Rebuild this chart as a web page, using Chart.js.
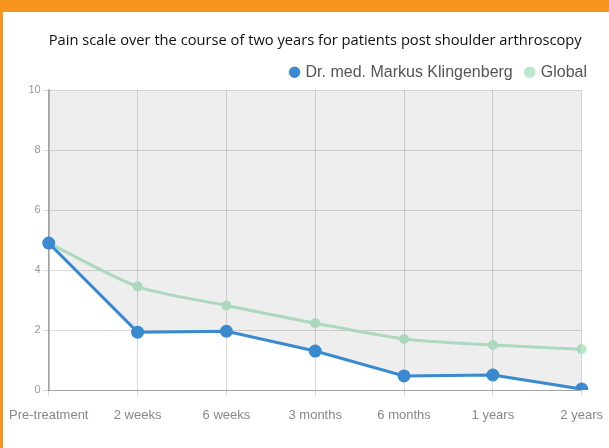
<!DOCTYPE html>
<html>
<head>
<meta charset="utf-8">
<script src="https://cdn.jsdelivr.net/npm/chart.js@4"></script>
<style>
  body { margin: 0; background: #f7941d; width: 609px; height: 448px; overflow: hidden; }
  .card { position: absolute; left: 3px; top: 12px; width: 606px; height: 436px; background: #fff; }
  canvas { display: block; }
</style>
</head>
<body>
<div class="card"><canvas id="myChart" width="606" height="436"></canvas></div>
<script>
const labels = ["Pre-treatment", "2 weeks", "6 weeks", "3 months", "6 months", "1 years", "2 years"];
const doctorValues = [4.9, 1.93, 1.96, 1.3, 0.47, 0.5, 0.03];
const globalValues = [4.9, 3.45, 2.82, 2.23, 1.7, 1.5, 1.36];
const yTicks = [0, 2, 4, 6, 8, 10];

const ctx = document.getElementById("myChart").getContext("2d");
let myChart = new Chart(ctx, {
    type: "line",
    data: {
        labels: labels,
        datasets: [
            {
                label: "Dr. med. Markus Klingenberg",
                data: doctorValues,
                borderColor: "#3a8ad0",
                backgroundColor: "rgba(0,0,0,0.065)",
                pointBackgroundColor: "#3a8ad0",
                pointBorderColor: "#3a8ad0",
                borderWidth: 3,
                pointRadius: 5,
                tension: 0,
                fill: "end",
                order: 1,
            },
            {
                label: "Global",
                data: globalValues,
                borderColor: "#b9e8cc",
                backgroundColor: "#b9e8cc",
                pointBackgroundColor: "#b9e8cc",
                pointBorderColor: "#b9e8cc",
                borderWidth: 3,
                pointRadius: 3.5,
                tension: 0.25,
                fill: false,
                order: 2,
            },
        ],
    },
    options: {
        responsive: false,
        animation: false,
        layout: { padding: { left: 0, right: 8, top: 0, bottom: 14 } },
        plugins: {
            title: {
                display: true,
                fullSize: false,
                text: "Pain scale over the course of two years for patients post shoulder arthroscopy",
                color: "#111",
                font: { family: "Open Sans", size: 15.2, weight: "normal" },
                padding: { top: 20, bottom: 0 },
            },
            legend: {
                align: "end",
                labels: {
                    usePointStyle: true,
                    pointStyle: "circle",
                    boxWidth: 6,
                    boxHeight: 6,
                    color: "#555",
                    font: { family: "Liberation Sans", size: 16 },
                    padding: 14,
                },
            },
            tooltip: { enabled: false },
        },
        scales: {
            x: {
                grid: { color: "rgba(0,0,0,0.15)", tickLength: 6 },
                border: { color: "rgba(0,0,0,0.25)" },
                ticks: { color: "#888", font: { family: "Liberation Sans", size: 13, lineHeight: 2 }, maxRotation: 0, padding: 6 },
            },
            y: {
                min: 0,
                max: 10,
                grid: { color: "rgba(0,0,0,0.15)", tickLength: 6 },
                border: { color: "rgba(0,0,0,0.25)", width: 2 },
                afterBuildTicks: (axis) => { axis.ticks = yTicks.map(v => ({ value: v })); },
                ticks: { color: "#999", font: { family: "Liberation Sans", size: 11 }, padding: 2 },
            },
        },
    },
});
</script>
</body>
</html>
